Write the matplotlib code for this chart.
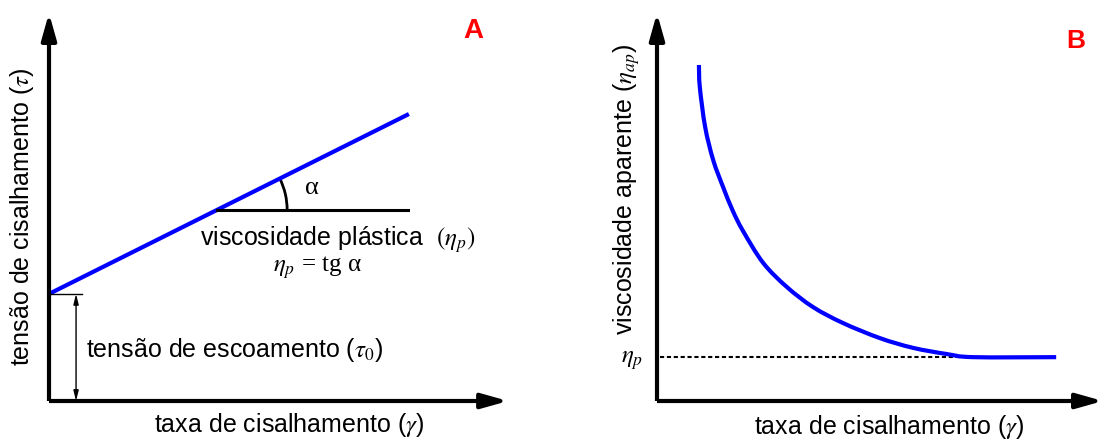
import numpy as np
import matplotlib.pyplot as plt
from matplotlib.patches import Arc, PathPatch
from matplotlib.path import Path

plt.rcParams['font.family'] = ['Liberation Sans', 'DejaVu Sans']
plt.rcParams['mathtext.fontset'] = 'stix'

# Painel A: modelo de Bingham (unidades arbitrárias)
tau0 = 2.76          # tensão de escoamento
eta_p = 0.581        # viscosidade plástica (inclinação)
gamma_a = np.array([0.0, 7.98])
tau_a = tau0 + eta_p * gamma_a
x_ref = [3.73, 7.96]  # linha horizontal de referência do ângulo

# Painel B: viscosidade aparente x taxa de cisalhamento
gamma_b = [0.94, 0.96, 1.08, 1.26, 1.48, 1.70, 1.93, 2.38, 2.91, 3.50,
           4.17, 5.00, 5.74, 6.50, 7.09, 8.95]
eta_ap = [8.66, 8.09, 7.06, 6.21, 5.52, 4.90, 4.38, 3.56, 2.94, 2.42,
          2.01, 1.62, 1.37, 1.21, 1.13, 1.13]
eta_p_level = 1.13

W, H = 1106, 441
fig = plt.figure(figsize=(W / 100, H / 100), dpi=100)


def px_axes(x0, y0, x1, y1):
    # cria eixos a partir de pixels (origem em cima à esquerda)
    return fig.add_axes([x0 / W, 1 - y1 / H, (x1 - x0) / W, (y1 - y0) / H])


def draw_arrows(ax, x_tip=1.0):
    for spine in ax.spines.values():
        spine.set_visible(False)
    ax.set_xticks([])
    ax.set_yticks([])
    ax.set_xlim(0, 10)
    ax.set_ylim(0, 10)
    ax.patch.set_alpha(0)
    style = '-|>,head_length=1.6,head_width=0.45'
    for tip in [(x_tip, 0.0), (0.0, 1.0)]:
        ax.annotate('', xy=tip, xytext=(0, 0), xycoords='axes fraction',
                    arrowprops=dict(arrowstyle=style, lw=3, color='black',
                                    shrinkA=0, shrinkB=0, capstyle='butt'),
                    annotation_clip=False)


def smooth_path(x, y):
    # curva suave (Catmull-Rom -> Bezier cúbica) passando pelos pontos
    pts = np.column_stack([x, y])
    verts, codes = [pts[0]], [Path.MOVETO]
    n = len(pts)
    for i in range(n - 1):
        p0 = pts[max(i - 1, 0)]
        p1, p2 = pts[i], pts[i + 1]
        p3 = pts[min(i + 2, n - 1)]
        verts += [p1 + (p2 - p0) / 6, p2 - (p3 - p1) / 6, p2]
        codes += [Path.CURVE4] * 3
    return Path(verts, codes)


def fig_text(x, y, s, **kw):
    fig.text(x / W, 1 - y / H, s, **kw)


# ---- A ----
axA = px_axes(49, 13, 500, 401)
draw_arrows(axA, x_tip=1.018)
axA.plot(gamma_a, tau_a, color='#0000ff', lw=3, solid_capstyle='butt')
axA.plot(x_ref, [tau0 + eta_p * x_ref[0]] * 2, color='black', lw=2.2)
ang = np.degrees(np.arctan(eta_p))
axA.add_patch(Arc((x_ref[0], tau0 + eta_p * x_ref[0]), 3.10, 3.61,
                  theta1=0, theta2=ang, color='black', lw=2))
axA.text(5.83, 5.49, 'α', fontsize=19, family='Liberation Serif',
         ha='center', va='center')
axA.text(3.35, 4.15, r'viscosidade plástica  $(\eta_p)$', fontsize=18,
         ha='left', va='center')
axA.text(5.96, 3.45, r'$\eta_p$ = tg α', fontsize=18,
         family='Liberation Serif', ha='center', va='center')

# tensão de escoamento
axA.plot([0, 0.73], [tau0, tau0], color='black', lw=1)
axA.annotate('', xy=(0.60, 0), xytext=(0.60, tau0),
             arrowprops=dict(arrowstyle='<|-|>,head_length=0.6,head_width=0.15',
                             lw=1, color='black', shrinkA=0, shrinkB=0))
axA.text(0.82, 1.31, r'tensão de escoamento ($\tau_{\mathit{0}}$)', fontsize=18,
         ha='left', va='center')

fig_text(22, 217, r'tensão de cisalhamento ($\tau$)', fontsize=18,
         rotation=90, ha='center', va='center')
fig_text(289, 425, r'taxa de cisalhamento ($\gamma$)', fontsize=18,
         ha='center', va='center')
fig_text(473, 31, 'A', fontsize=20, color='#ff0000', fontweight='bold',
         ha='center', va='center')

# ---- B ----
axB = px_axes(657, 13, 1103, 401)
draw_arrows(axB)
axB.plot([0.07, gamma_b[-1]], [eta_p_level, eta_p_level], color='black',
         lw=1.5, ls=(0, (2, 1.3)), zorder=2)
axB.add_patch(PathPatch(smooth_path(gamma_b, eta_ap), fill=False,
                        edgecolor='#0000ff', lw=3, zorder=3))
axB.text(-0.56, eta_p_level - 0.08, r'$\eta_p$', fontsize=18,
         ha='center', va='center')

fig_text(627, 190, r'viscosidade aparente ($\eta_{ap}$)', fontsize=18,
         rotation=90, ha='center', va='center')
fig_text(889, 427, r'taxa de cisalhamento ($\gamma$)', fontsize=18,
         ha='center', va='center')
fig_text(1076, 41, 'B', fontsize=19, color='#ff0000', fontweight='bold',
         ha='center', va='center')

fig.savefig('out.png', dpi=100)
